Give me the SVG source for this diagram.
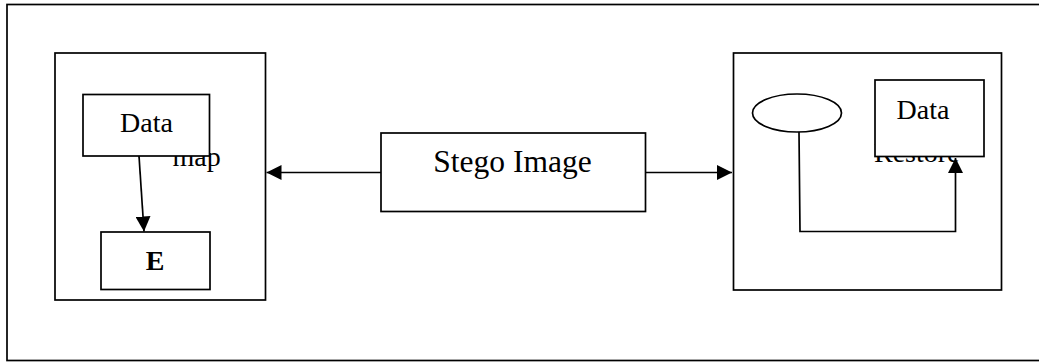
<svg xmlns="http://www.w3.org/2000/svg" width="1039" height="362" viewBox="0 0 1039 362">
<style>
.box{fill:#fff;stroke:#000;stroke-width:1.7}
.bg{fill:none;stroke:#000;stroke-width:1.7}
.t{font-family:"Liberation Serif","Times New Roman",serif;font-size:28px;fill:#000}
.line{fill:none;stroke:#000;stroke-width:1.7}
</style>
<defs>
<marker id="ahb" viewBox="0 0 15 15" refX="15" refY="7.5" markerWidth="15" markerHeight="15" markerUnits="userSpaceOnUse" orient="auto">
<path d="M0,0 L15,7.5 L0,15 Z" fill="#000"/>
</marker>
</defs>
<rect class="bg" x="7" y="4.5" width="1040" height="356"/>
<g id="left-panel">
<rect class="box" x="55" y="53" width="210.5" height="247"/>
<text class="t" x="172.5" y="166">map</text>
</g>
<g id="data-left">
<rect class="box" x="83" y="94.5" width="126.5" height="61.5"/>
<text class="t" x="146.5" y="132" text-anchor="middle">Data</text>
</g>
<g id="e-box">
<rect class="box" x="101" y="232" width="109" height="57.5"/>
<text class="t" x="155" y="270" text-anchor="middle" font-weight="bold">E</text>
</g>
<g id="stego">
<rect class="box" x="381" y="133" width="264.5" height="78.5"/>
<text class="t" x="512.5" y="172" text-anchor="middle" style="font-size:31.5px">Stego Image</text>
</g>
<g id="right-panel">
<rect class="box" x="733.5" y="53" width="268" height="237"/>
<text class="t" x="874" y="162">Restore</text>
</g>
<g id="oval">
<ellipse class="box" cx="797" cy="113" rx="44.5" ry="19"/>
</g>
<g id="data-right">
<rect class="box" x="875" y="80" width="109" height="76.5"/>
<text class="t" x="923" y="118.5" text-anchor="middle">Data</text>
</g>
<g id="connectors">
<line class="line" x1="139" y1="156" x2="144" y2="231.5" marker-end="url(#ahb)"/>
<line class="line" x1="381" y1="172.5" x2="266.5" y2="172.5" marker-end="url(#ahb)"/>
<line class="line" x1="645.5" y1="172.5" x2="732" y2="172.5" marker-end="url(#ahb)"/>
<polyline class="line" points="799,132 800,231.5 955.5,231.5 955.5,158" marker-end="url(#ahb)"/>
</g>
</svg>
